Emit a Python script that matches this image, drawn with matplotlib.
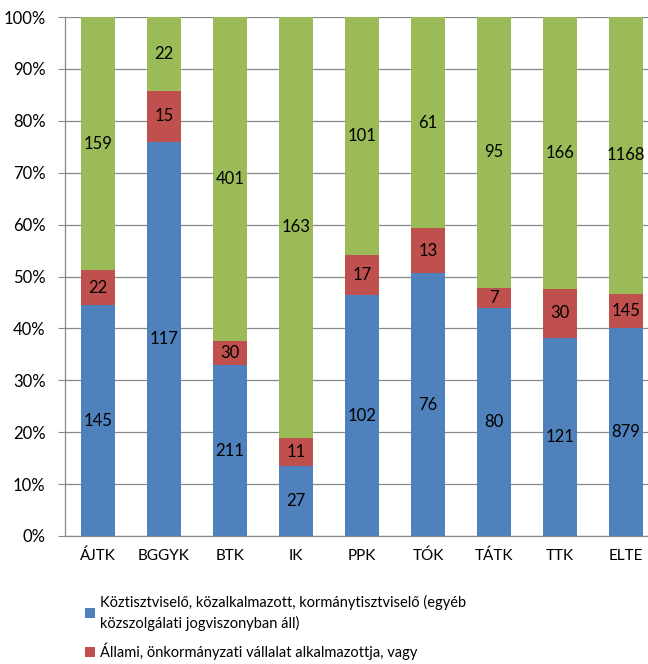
import matplotlib
matplotlib.use("Agg")
import matplotlib.pyplot as plt
import numpy as np
from matplotlib.patches import Patch

categories = ["ÁJTK", "BGGYK", "BTK", "IK", "PPK", "TÓK", "TÁTK", "TTK", "ELTE"]
kozszolga = [145, 117, 211, 27, 102, 76, 80, 121, 879]
allami = [22, 15, 30, 11, 17, 13, 7, 30, 145]
egyeb = [159, 22, 401, 163, 101, 61, 95, 166, 1168]

series = [kozszolga, allami, egyeb]
colors = ["#4F81BD", "#C0504D", "#9BBB59"]
labels = [
    "Köztisztviselő, közalkalmazott, kormánytisztviselő (egyéb\nközszolgálati jogviszonyban áll)",
    "Állami, önkormányzati vállalat alkalmazottja, vagy",
]

plt.rcParams['font.family'] = ['Lato', 'DejaVu Sans']
FS = 10.5
NFS = 12

fig = plt.figure(figsize=(6.48, 6.64), dpi=100)
W, H = 648, 664
left, right, top, bottom = 65, 659, 17, 536
ax = fig.add_axes([left / W, 1 - bottom / H, (right - left) / W, (bottom - top) / H])

vals = np.array(series, dtype=float)
totals = vals.sum(axis=0)
pct = vals / totals * 100
x = np.arange(len(categories))
base = np.zeros(len(categories))
handles = []
for i in range(3):
    bars = ax.bar(x, pct[i], bottom=base, width=0.515, color=colors[i], zorder=3)
    for j, b in enumerate(bars):
        ax.text(x[j], base[j] + pct[i][j] / 2, str(int(vals[i][j])),
                ha="center", va="center", fontsize=NFS, color="black", zorder=4)
    base += pct[i]
    handles.append(Patch(facecolor=colors[i]))

ax.set_xlim(-0.5, len(categories) - 0.5)
ax.set_ylim(0, 100)
ax.set_yticks(np.arange(0, 101, 10))
ax.set_yticklabels([f"{v}%" for v in range(0, 101, 10)], fontsize=NFS)
ax.set_xticks(x)
ax.set_xticklabels(categories, fontsize=FS + 0.5)
ax.yaxis.grid(True, color="#888888", linewidth=0.9, zorder=0)
ax.set_axisbelow(True)
for s in ["top", "right"]:
    ax.spines[s].set_visible(False)
for s in ["left", "bottom"]:
    ax.spines[s].set_color("#888888")
    ax.spines[s].set_linewidth(0.9)
ax.tick_params(axis="y", length=5, color="#888888", pad=9)
ax.tick_params(axis="x", length=0, pad=9)

leg = fig.legend(handles[:2], labels, loc="upper left", bbox_to_anchor=(85 / W, 1 - 595 / H),
                 frameon=False, fontsize=FS, handlelength=0.7, handleheight=0.7,
                 handletextpad=0.3, labelspacing=0.85, borderpad=0, borderaxespad=0)
for t in leg.get_texts():
    t.set_linespacing(1.45)

fig.savefig("out.png", dpi=100)
